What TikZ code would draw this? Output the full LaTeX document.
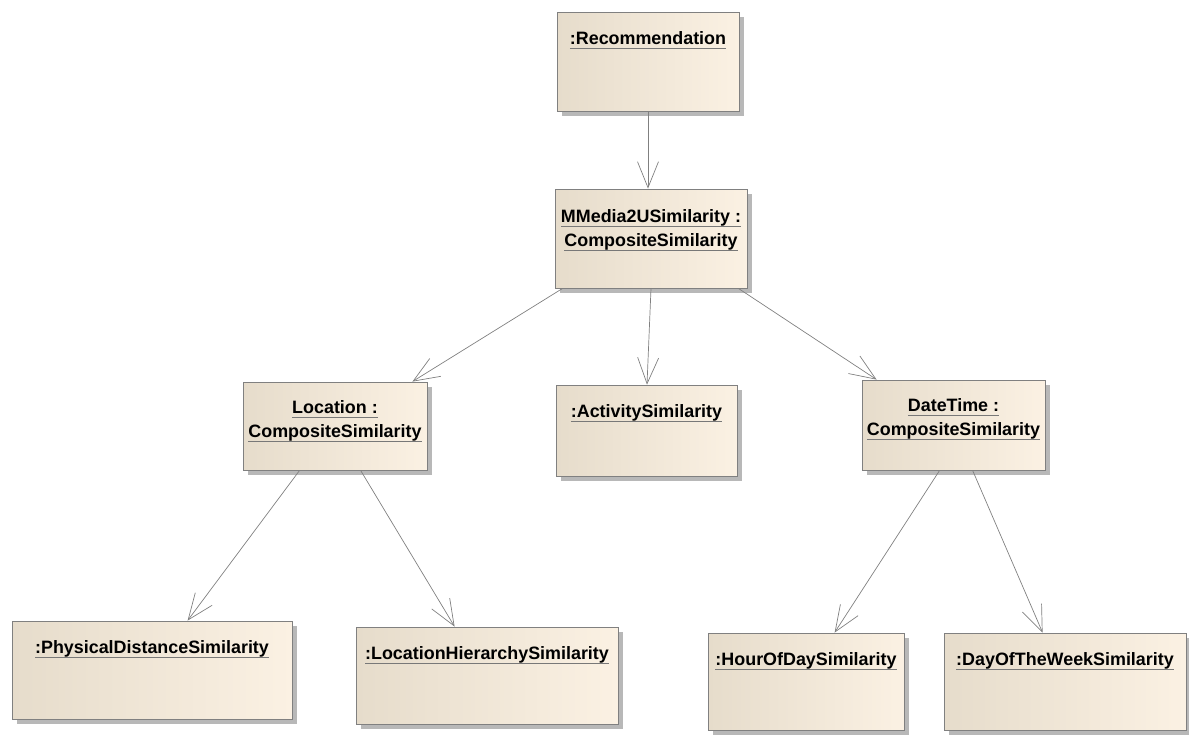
\documentclass[tikz,border=0pt]{standalone}
\usepackage{fontspec}
\setmainfont{Liberation Sans}
\usetikzlibrary{arrows.meta,calc,shadows}
\definecolor{bL}{HTML}{E6DCCB}
\definecolor{bR}{HTML}{FBF1E3}
\definecolor{bord}{HTML}{808080}
\definecolor{shad}{HTML}{B8B8B8}
\definecolor{ulc}{HTML}{787878}
\definecolor{lnc}{HTML}{808080}
\newcommand\ulbox[1]{\setbox0=\hbox{#1}\rlap{\textcolor{ulc}{\rule[-4pt]{\wd0}{0.8pt}}}\box0}
\tikzset{
  objbox/.style={rectangle, draw=bord, line width=0.8pt, left color=bL, right color=bR,
    drop shadow={shadow xshift=5pt, shadow yshift=-5pt, fill=shad, opacity=1},
    inner sep=0pt},
  lbl/.style={anchor=base, inner sep=0pt, font=\fontsize{17.9}{21}\selectfont\bfseries},
  conn/.style={draw=lnc, line width=0.7pt, -{Straight Barb[length=26pt,width=21pt]}}
}
\begin{document}
\begin{tikzpicture}[x=1pt,y=-1pt]
\useasboundingbox (0,0) rectangle (1189,734);
% boxes
\node[objbox, minimum width=182pt, minimum height=99pt] (rec) at (648,61.5) {};
\node[objbox, minimum width=192pt, minimum height=99pt] (mm) at (651,238.5) {};
\node[objbox, minimum width=184pt, minimum height=88pt] (loc) at (335,426) {};
\node[objbox, minimum width=181pt, minimum height=91pt] (act) at (646.5,430.5) {};
\node[objbox, minimum width=183pt, minimum height=90pt] (dt) at (953.5,425) {};
\node[objbox, minimum width=280pt, minimum height=98pt] (phys) at (152,670) {};
\node[objbox, minimum width=262pt, minimum height=97pt] (lh) at (487,675.5) {};
\node[objbox, minimum width=196pt, minimum height=97pt] (hour) at (806,681.5) {};
\node[objbox, minimum width=242pt, minimum height=97pt] (day) at (1065,681.5) {};
% labels
\node[lbl] (recT) at ($(rec.north)+(0,33)$) {\ulbox{:Recommendation}};
\node[lbl] (mmT1) at ($(mm.north)+(0,34)$) {\ulbox{MMedia2USimilarity :}};
\node[lbl] (mmT2) at ($(mm.north)+(0,58)$) {\ulbox{CompositeSimilarity}};
\node[lbl] (locT1) at ($(loc.north)+(0,32)$) {\ulbox{Location :}};
\node[lbl] (locT2) at ($(loc.north)+(0,56)$) {\ulbox{CompositeSimilarity}};
\node[lbl] (actT) at ($(act.north)+(0,33)$) {\ulbox{:ActivitySimilarity}};
\node[lbl] (dtT1) at ($(dt.north)+(0,32)$) {\ulbox{DateTime :}};
\node[lbl] (dtT2) at ($(dt.north)+(0,56)$) {\ulbox{CompositeSimilarity}};
\node[lbl] (physT) at ($(phys.north)+(0,33)$) {\ulbox{:PhysicalDistanceSimilarity}};
\node[lbl] (lhT) at ($(lh.north)+(0,33)$) {\ulbox{:LocationHierarchySimilarity}};
\node[lbl] (hourT) at ($(hour.north)+(0,33)$) {\ulbox{:HourOfDaySimilarity}};
\node[lbl] (dayT) at ($(day.north)+(0,33)$) {\ulbox{:DayOfTheWeekSimilarity}};
% connectors
\draw[conn] (rec.south) -- (rec.south |- mm.north);
\draw[conn] ($(mm.south west)+(8,0)$) -- ($(loc.north east)+(-15,0)$);
\draw[conn] ($(mm.south)+(0,0)$) -- ($(act.north)+(0.5,0)$);
\draw[conn] ($(mm.south east)+(-9,0)$) -- ($(dt.north west)+(15,0)$);
\draw[conn] ($(loc.south west)+(57,0)$) -- ($(phys.north west)+(176,0)$);
\draw[conn] ($(loc.south west)+(118,0)$) -- ($(lh.north west)+(99,0)$);
\draw[conn] ($(dt.south west)+(78,0)$) -- ($(hour.north west)+(127,0)$);
\draw[conn] ($(dt.south west)+(111,0)$) -- ($(day.north west)+(99,0)$);
\end{tikzpicture}
\end{document}
